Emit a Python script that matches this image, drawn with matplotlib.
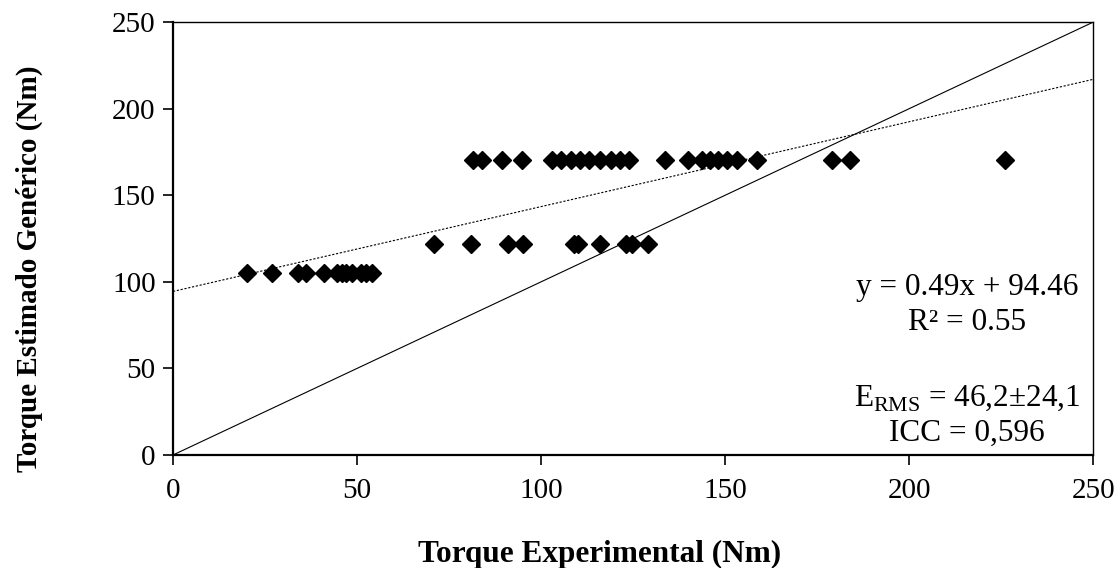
import numpy as np
import matplotlib.pyplot as plt

plt.rcParams["font.family"] = ["Liberation Serif", "DejaVu Serif"]
plt.rcParams["mathtext.fontset"] = "custom"
plt.rcParams["mathtext.rm"] = "Liberation Serif"

# === Data ===
x_low = [20, 27, 34, 36, 41, 44.5, 46, 47, 48.5, 51, 52.5, 54]
y_low = 105.3

x_mid = [71, 81, 91, 95, 109, 110, 116, 123, 124.6, 129]
y_mid = 121.7

x_high = [81.4, 84, 89.3, 94.8, 103, 105.5, 108, 110.5, 113, 116, 119, 121.5,
          124, 133.7, 140, 143.7, 146, 148.2, 150.5, 153.2, 158.6, 179, 184, 226]
y_high = 170.2

slope, intercept = 0.49, 94.46
annot_lines = ["y = 0.49x + 94.46", "R² = 0.55",
               r"E$_{\mathrm{RMS}}$ = 46,2±24,1", "ICC = 0,596"]

x_all = np.array(x_low + x_mid + x_high)
y_all = np.array([y_low] * len(x_low) + [y_mid] * len(x_mid) + [y_high] * len(x_high))

# === Plot ===
fig = plt.figure(figsize=(11.2, 5.68), dpi=100)
ax = fig.add_axes([0.1545, 0.199, 0.8215, 0.762])

ax.plot(x_all, y_all, linestyle="none", marker="D", markersize=9.2,
        color="black", zorder=3)

lim = np.array([0, 250])
ax.plot(lim, lim, color="black", linewidth=0.8)
ax.plot(lim, slope * lim + intercept, color="black", linewidth=0.8,
        linestyle=(0, (2, 1.5)))

ax.set_xlim(0, 250)
ax.set_ylim(0, 250)
ax.set_xticks(range(0, 251, 50))
ax.set_yticks(range(0, 251, 50))
ax.tick_params(direction="out", length=7, width=1.2, labelsize=21)
ax.tick_params(axis="x", pad=9.5)
ax.tick_params(axis="y", pad=5.5)
for s in ax.spines.values():
    s.set_linewidth(1.0)
ax.spines["left"].set_linewidth(1.6)
ax.spines["bottom"].set_linewidth(1.6)

ax.set_xlabel("Torque Experimental (Nm)", fontsize=22.5, fontweight="bold")
ax.xaxis.set_label_coords(0.464, -0.196)
ax.set_ylabel("Torque Estimado Genérico (Nm)", fontsize=21, fontweight="bold")
ax.yaxis.set_label_coords(-0.141, 0.43)

ys = [0.388, 0.305, 0.132, 0.051]
for txt, yy in zip(annot_lines, ys):
    ax.text(0.863, yy, txt, transform=ax.transAxes, ha="center", va="center",
            fontsize=22.5)

plt.savefig("out.png", dpi=100, facecolor="white")
